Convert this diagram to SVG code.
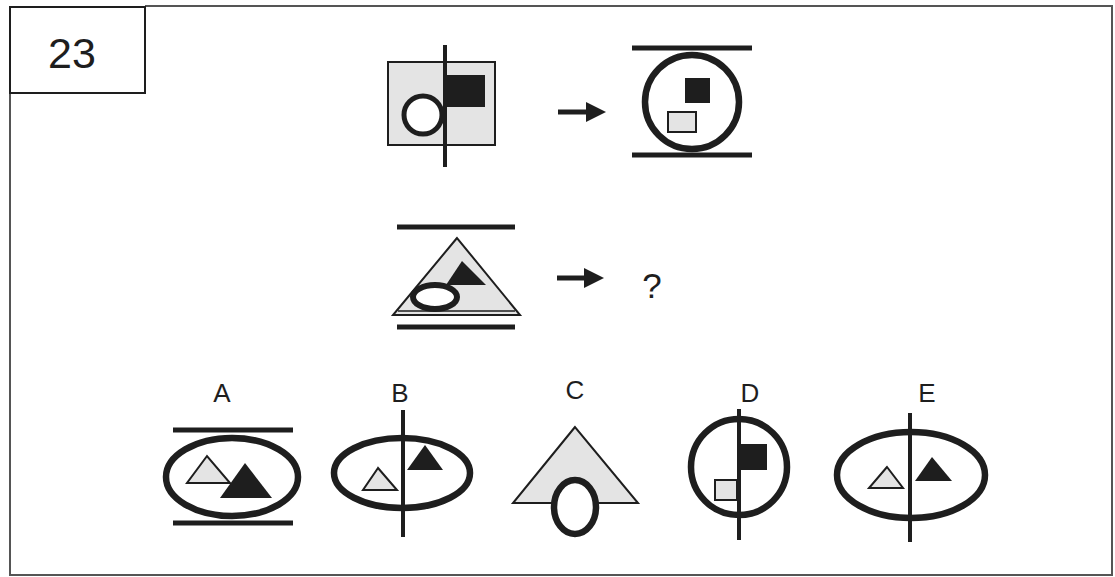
<svg xmlns="http://www.w3.org/2000/svg" width="1115" height="577" viewBox="0 0 1115 577">
<defs>
<style>
.ln{stroke:#1e1e1e;fill:none}
.thick{stroke:#1e1e1e;stroke-width:6.5;fill:none}
.bar{stroke:#1e1e1e;stroke-width:5}
.lt{fill:#e4e4e4;stroke:#1e1e1e;stroke-width:2}
.dk{fill:#1e1e1e}
.lbl{font-family:"Liberation Sans",Arial,sans-serif;fill:#1e1e1e;text-anchor:middle}
</style>
<marker id="ah" viewBox="0 0 10 10" refX="2" refY="5" markerWidth="4" markerHeight="4" orient="auto" markerUnits="strokeWidth">
<path d="M0,0 L10,5 L0,10 z" fill="#1e1e1e"/>
</marker>
</defs>
<rect width="1115" height="577" fill="#ffffff"/>
<g id="frame">
<path d="M145,6 H1112 V575 H10 V93" fill="none" stroke="#555" stroke-width="2"/>
<rect x="10" y="7" width="135" height="86" fill="#fff" stroke="#1e1e1e" stroke-width="2"/>
<text class="lbl" x="72" y="68" font-size="43">23</text>
</g>
<g id="q1-left">
<rect x="388" y="62" width="107" height="83" class="lt"/>
<rect x="443" y="75" width="42" height="32" class="dk"/>
<circle cx="423" cy="115" r="19" fill="#fff" stroke="#1e1e1e" stroke-width="5"/>
<line x1="445" y1="45" x2="445" y2="167" class="ln" stroke-width="4"/>
</g>
<g id="q1-right">
<line x1="632" y1="48" x2="752" y2="48" class="bar"/>
<line x1="632" y1="155" x2="752" y2="155" class="bar"/>
<circle cx="692" cy="102" r="47" class="thick"/>
<rect x="685" y="78" width="25" height="25" class="dk"/>
<rect x="668" y="112" width="28" height="20" class="lt"/>
</g>
<g id="q2-left">
<line x1="397" y1="227" x2="515" y2="227" class="bar"/>
<line x1="397" y1="327" x2="515" y2="327" class="bar"/>
<polygon points="457,238 393,315 520,315" class="lt"/>
<line x1="398" y1="311" x2="515" y2="311" stroke="#1e1e1e" stroke-width="1.5"/>
<polygon points="462,261 446,285 486,285" class="dk"/>
<ellipse cx="435" cy="297" rx="22" ry="12" fill="#fff" stroke="#1e1e1e" stroke-width="6"/>
</g>
<g id="connectors">
<line x1="558" y1="112" x2="590" y2="112" stroke="#1e1e1e" stroke-width="5" marker-end="url(#ah)"/>
<line x1="557" y1="278" x2="588" y2="278" stroke="#1e1e1e" stroke-width="5" marker-end="url(#ah)"/>
</g>
<g id="q2-right">
<text class="lbl" x="652" y="298" font-size="35">?</text>
</g>
<g id="optA">
<text class="lbl" x="222" y="402" font-size="26">A</text>
<line x1="173" y1="430" x2="293" y2="430" class="bar"/>
<line x1="173" y1="523" x2="293" y2="523" class="bar"/>
<ellipse cx="232" cy="477" rx="66" ry="39" class="thick"/>
<polygon points="207,456 187,483 230,483" class="lt"/>
<polygon points="245,463 220,498 272,498" class="dk"/>
</g>
<g id="optB">
<text class="lbl" x="400" y="402" font-size="26">B</text>
<ellipse cx="402" cy="473" rx="68" ry="35" class="thick"/>
<polygon points="378,468 363,490 397,490" class="lt"/>
<polygon points="425,445 407,470 443,470" class="dk"/>
<line x1="403" y1="410" x2="403" y2="537" class="ln" stroke-width="4"/>
</g>
<g id="optC">
<text class="lbl" x="575" y="399" font-size="26">C</text>
<polygon points="575,427 513,503 638,503" class="lt"/>
<ellipse cx="575" cy="507" rx="21" ry="27" fill="#fff" stroke="#1e1e1e" stroke-width="6.5"/>
</g>
<g id="optD">
<text class="lbl" x="750" y="402" font-size="26">D</text>
<circle cx="739" cy="467" r="48" class="thick"/>
<rect x="741" y="444" width="26" height="26" class="dk"/>
<rect x="715" y="480" width="22" height="20" class="lt"/>
<line x1="739" y1="409" x2="739" y2="540" class="ln" stroke-width="4"/>
</g>
<g id="optE">
<text class="lbl" x="927" y="402" font-size="26">E</text>
<ellipse cx="911" cy="475" rx="74" ry="43" class="thick"/>
<polygon points="887,467 869,488 903,488" class="lt"/>
<polygon points="932,457 915,481 952,481" class="dk"/>
<line x1="910" y1="413" x2="910" y2="542" class="ln" stroke-width="4"/>
</g>
</svg>
